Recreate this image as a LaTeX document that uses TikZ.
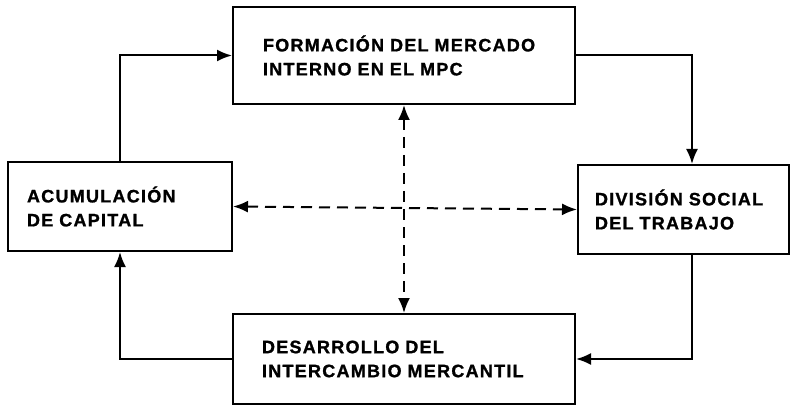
\documentclass[tikz,border=0pt]{standalone}
\usepackage{fontspec}
\newfontfamily\boxfont[LetterSpace=7,WordSpace=2.6,FakeBold=1.2]{Liberation Sans Bold}
\usetikzlibrary{
	positioning				% relative placement
	, arrows.meta			% Latex tips with a size
	, calc
}

\begin{document}
\begin{tikzpicture}[
				x=1pt, y=-1pt,
				element/.style={
					rectangle,
					draw=black, line width=2pt,
					align=left,
					font=\boxfont\fontsize{18}{24}\selectfont
				},
				arrow/.style={
					-{Latex[length=15pt,width=12pt]},
					line width=2pt
				},
				crossarrow/.style={
					arrow,
					{Latex[length=15pt,width=12pt]}-{Latex[length=15pt,width=12pt]},
					dash pattern=on 11pt off 7pt
				}]

			\useasboundingbox (0,0) rectangle (792,406);

			%%% The four boxes
			\node [element, inner xsep=30pt, text width=282pt, minimum height=97pt] (compMercado) at (404,55.5) {FORMACIÓN DEL MERCADO\\INTERNO EN EL MPC};
			\node [element, inner xsep=19pt, text width=186pt, minimum height=89pt] (compCapital) at (120,206.5) {ACUMULACIÓN\\DE CAPITAL};
			\node [element, inner xsep=17pt, text width=177pt, minimum height=89pt] (compTrabajo) at (683.5,209.5) {DIVISIÓN SOCIAL\\DEL TRABAJO};
			\node [element, inner xsep=29pt, text width=284pt, minimum height=90pt] (compIntercambio) at (404,359) {DESARROLLO DEL\\INTERCAMBIO MERCANTIL};

			%%% The outer loop
			\draw [arrow] (compCapital.north) |- (compMercado.west);
			\draw [arrow] (compMercado.east) -| ([xshift=8.5pt]compTrabajo.north);
			\draw [arrow] ([xshift=8.5pt]compTrabajo.south) |- (compIntercambio.east);
			\draw [arrow] (compIntercambio.west) -| (compCapital.south);

			%%% The dashed cross
			\draw [crossarrow] (compCapital.east) -- (compTrabajo.west);
			\draw [crossarrow] (compMercado.south) -- (compIntercambio.north);

		\end{tikzpicture}
\end{document}
